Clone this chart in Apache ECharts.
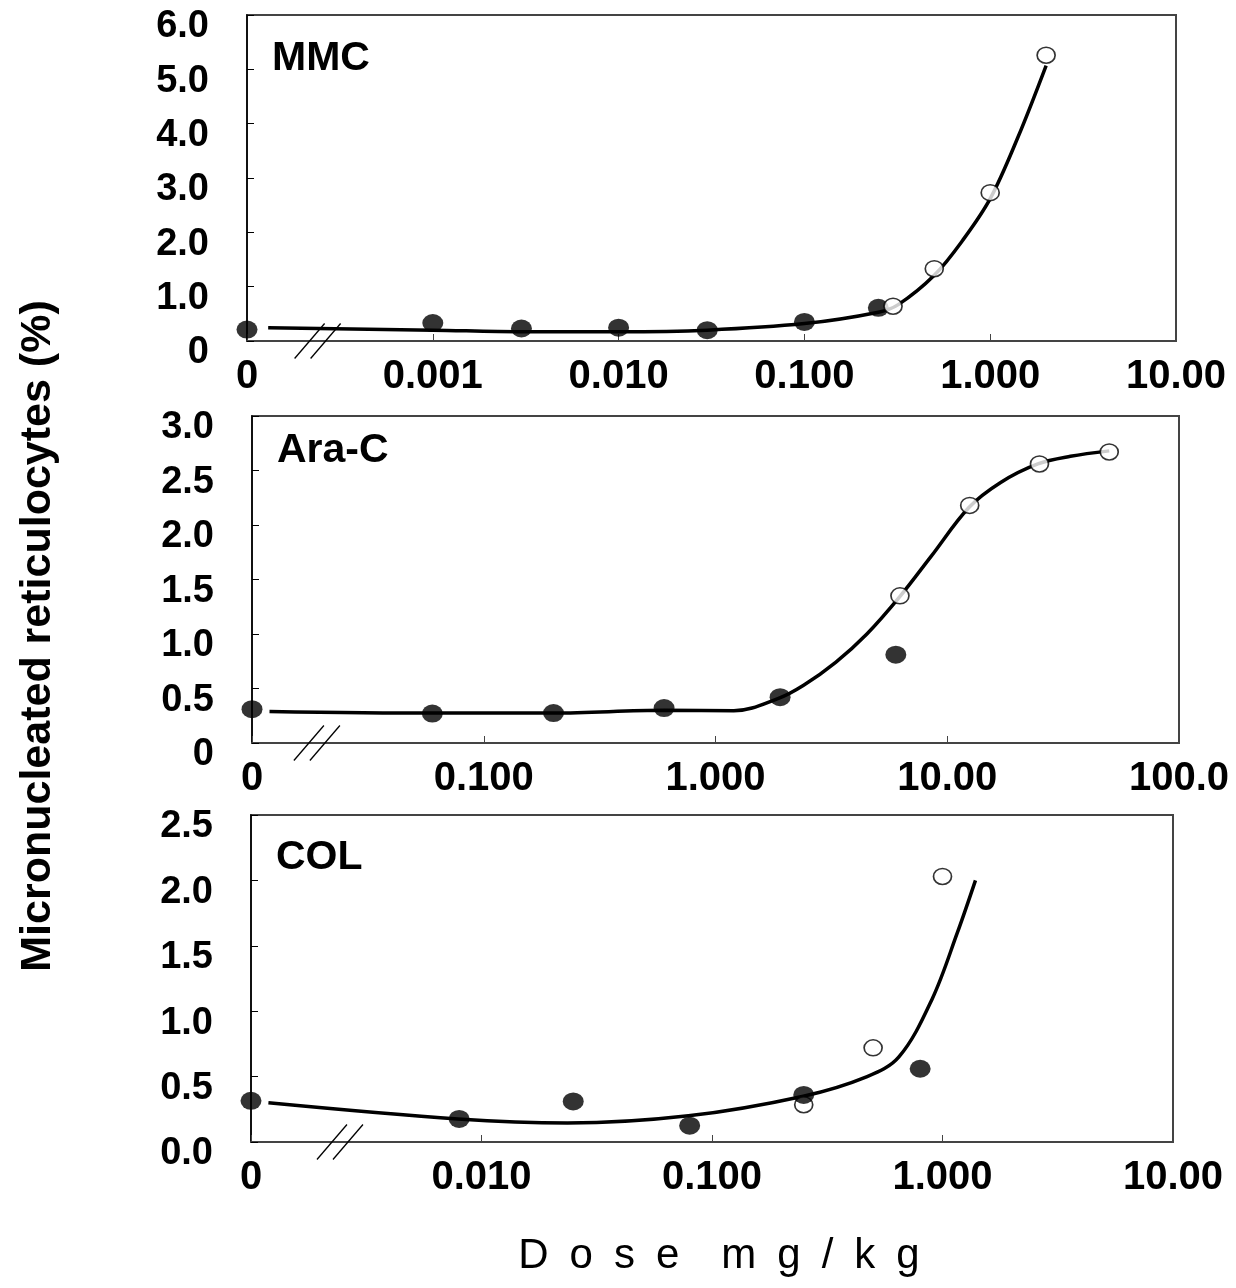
<!DOCTYPE html>
<html><head><meta charset="utf-8">
<script src="https://cdn.jsdelivr.net/npm/echarts@6/dist/echarts.min.js"></script>
<style>html,body{margin:0;padding:0;background:#fff}#c{width:1236px;height:1288px}</style>
</head><body><div id="c"></div>
<script>
// ---------- MMC ----------
const mmcXLabels = ['0', '0.001', '0.010', '0.100', '1.000', '10.00'];
const mmcYLabels = ['0', '1.0', '2.0', '3.0', '4.0', '5.0', '6.0'];
const mmcFilledDose = [0, 0.001, 0.003, 0.01, 0.03, 0.1, 0.25];
const mmcFilledValue = [0.21, 0.33, 0.23, 0.245, 0.2, 0.35, 0.61];
const mmcOpenDose = [0.3, 0.5, 1, 2];
const mmcOpenValue = [0.64, 1.33, 2.73, 5.26];
const mmcCurveDose = [0.00013, 0.001, 0.003, 0.01, 0.03, 0.1, 0.25, 0.32, 0.5, 0.71, 1, 1.41, 2];
const mmcCurveValue = [0.245, 0.2, 0.17, 0.17, 0.2, 0.32, 0.53, 0.67, 1.21, 1.85, 2.62, 3.75, 5.07];

// ---------- Ara-C ----------
const araXLabels = ['0', '0.100', '1.000', '10.00', '100.0'];
const araYLabels = ['0', '0.5', '1.0', '1.5', '2.0', '2.5', '3.0'];
const araFilledDose = [0, 0.06, 0.2, 0.6, 1.9, 6];
const araFilledValue = [0.31, 0.27, 0.275, 0.32, 0.42, 0.81];
const araOpenDose = [6.25, 12.5, 25, 50];
const araOpenValue = [1.35, 2.18, 2.56, 2.67];
const araCurveDose = [0.0119, 0.06, 0.2, 0.6, 1.2, 1.87, 2.4, 3.3, 4.5, 6.28, 8.5, 12.4, 17, 24.6, 34, 50];
const araCurveValue = [0.29, 0.275, 0.275, 0.30, 0.296, 0.41, 0.53, 0.74, 1.0, 1.35, 1.71, 2.16, 2.39, 2.56, 2.63, 2.68];

// ---------- COL ----------
const colXLabels = ['0', '0.010', '0.100', '1.000', '10.00'];
const colYLabels = ['0.0', '0.5', '1.0', '1.5', '2.0', '2.5'];
const colFilledDose = [0, 0.008, 0.025, 0.08, 0.25, 0.8];
const colFilledValue = [0.315, 0.176, 0.31, 0.125, 0.36, 0.56];
const colOpenDose = [0.25, 0.5, 1];
const colOpenValue = [0.285, 0.72, 2.03];
const colCurveDose = [0.00119, 0.0079, 0.0236, 0.079, 0.249, 0.471, 0.647, 0.90, 1.16, 1.39];
const colCurveValue = [0.30, 0.176, 0.145, 0.20, 0.35, 0.50, 0.65, 1.09, 1.60, 2.0];

const yTitle = 'Micronucleated reticulocytes (%)';
const xTitle = 'D\u2002o\u2002s\u2002e\u2002\u2002m\u2002g\u2002/\u2002k\u2002g';

const panels = [
  { title: 'MMC', grid: { left: 247, top: 15, width: 929, height: 326 }, minExp: -4, maxExp: 1,
    xLabels: mmcXLabels, yLabels: mmcYLabels, yInterval: 1,
    fd: mmcFilledDose, fv: mmcFilledValue, od: mmcOpenDose, ov: mmcOpenValue,
    cd: mmcCurveDose, cv: mmcCurveValue, breakExp: -3.62, openOnTop: true, titleY: 59 },
  { title: 'Ara-C', grid: { left: 252, top: 416, width: 927, height: 327 }, minExp: -2, maxExp: 2,
    xLabels: araXLabels, yLabels: araYLabels, yInterval: 0.5,
    fd: araFilledDose, fv: araFilledValue, od: araOpenDose, ov: araOpenValue,
    cd: araCurveDose, cv: araCurveValue, breakExp: -1.72, openOnTop: true, titleY: 451 },
  { title: 'COL', grid: { left: 251, top: 815, width: 922, height: 327 }, minExp: -3, maxExp: 1,
    xLabels: colXLabels, yLabels: colYLabels, yInterval: 0.5,
    fd: colFilledDose, fv: colFilledValue, od: colOpenDose, ov: colOpenValue,
    cd: colCurveDose, cv: colCurveValue, breakExp: -2.614, openOnTop: false, titleY: 858 }
];

const FONT = '"Liberation Sans", Arial, sans-serif';
const grids = [], xAxes = [], yAxes = [], series = [], graphics = [];

panels.forEach((p, i) => {
  const xMin = Math.pow(10, p.minExp), xMax = Math.pow(10, p.maxExp);
  const yMax = p.yInterval * (p.yLabels.length - 1);
  const mapDose = d => (d === 0 ? xMin : d);
  grids.push(Object.assign({ show: true, borderColor: '#444', borderWidth: 2, backgroundColor: 'transparent' }, p.grid));
  xAxes.push({
    type: 'log', logBase: 10, gridIndex: i, min: xMin, max: xMax, interval: 1,
    axisLine: { show: true, onZero: false, lineStyle: { color: '#444', width: 2 } },
    axisTick: { show: true, inside: true, length: 7, lineStyle: { color: '#444', width: 1 } },
    minorTick: { show: false }, splitLine: { show: false },
    axisLabel: {
      show: true, margin: 16, fontSize: 40, fontWeight: 'bold', color: '#000', fontFamily: FONT,
      showMinLabel: true, showMaxLabel: true, hideOverlap: false,
      formatter: v => {
        const k = Math.round(Math.log10(v)) - p.minExp;
        return p.xLabels[k] !== undefined ? p.xLabels[k] : '';
      }
    }
  });
  yAxes.push({
    type: 'value', gridIndex: i, min: 0, max: yMax, interval: p.yInterval,
    axisLine: { show: true, lineStyle: { color: '#000', width: 1.5 } },
    axisTick: { show: true, inside: true, length: 7, lineStyle: { color: '#000', width: 1 } },
    splitLine: { show: false },
    axisLabel: {
      show: true, margin: 38, color: '#000', showMinLabel: true, showMaxLabel: true,
      rich: { a: { fontSize: 38, fontWeight: 'bold', color: '#000', fontFamily: FONT, padding: [24, 0, 0, 0] } },
      formatter: v => {
        const k = Math.round(v / p.yInterval);
        return p.yLabels[k] !== undefined ? '{a|' + p.yLabels[k] + '}' : '';
      }
    }
  });
  // fitted curve
  series.push({
    type: 'line', xAxisIndex: i, yAxisIndex: i, smooth: 0.35, symbol: 'none', silent: true,
    lineStyle: { color: '#000', width: 3.5 }, z: 2,
    data: p.cd.map((d, k) => [d, p.cv[k]])
  });
  const filled = {
    type: 'scatter', xAxisIndex: i, yAxisIndex: i, symbol: 'circle', symbolSize: [21, 18], silent: true,
    itemStyle: { color: '#000', borderColor: '#000', borderWidth: 0 }, z: p.openOnTop ? 3 : 5,
    clip: false,
    data: p.fd.map((d, k) => [mapDose(d), p.fv[k]])
  };
  const open = {
    type: 'scatter', xAxisIndex: i, yAxisIndex: i, symbol: 'circle', symbolSize: [18, 16], silent: true,
    itemStyle: { color: '#fff', borderColor: '#000', borderWidth: 1.6 }, z: p.openOnTop ? 5 : 3,
    clip: false,
    data: p.od.map((d, k) => [d, p.ov[k]])
  };
  series.push(filled, open);
  // axis break marks "//"
  series.push({
    type: 'custom', xAxisIndex: i, yAxisIndex: i, silent: true, clip: false, z: 10,
    data: [[Math.pow(10, p.breakExp), 0]],
    renderItem: (params, api) => {
      const c = api.coord([api.value(0), api.value(1)]);
      const mk = dx => ({ type: 'line',
        shape: { x1: c[0] + dx - 15, y1: c[1] + 17.5, x2: c[0] + dx + 15, y2: c[1] - 17.5 },
        style: { stroke: '#000', lineWidth: 1.3 } });
      return { type: 'group', children: [mk(-8), mk(8)] };
    }
  });
  graphics.push({
    type: 'text', left: p.grid.left + 25, top: p.titleY - 21,
    style: { text: p.title, font: 'bold 41px ' + FONT, fill: '#000' }
  });
});

graphics.push({
  type: 'text', x: 38, y: 636, rotation: Math.PI / 2,
  style: { text: yTitle, font: 'bold 43px ' + FONT, fill: '#000', align: 'center', verticalAlign: 'middle' }
});
graphics.push({
  type: 'text', x: 719, y: 1256,
  style: { text: xTitle, font: '42px ' + FONT, fill: '#000', align: 'center', verticalAlign: 'middle' }
});

const chart = echarts.init(document.getElementById('c'), null, { renderer: 'canvas' });
chart.setOption({
  animation: false, backgroundColor: '#fff',
  grid: grids, xAxis: xAxes, yAxis: yAxes, series: series, graphic: graphics
});
</script></body></html>
